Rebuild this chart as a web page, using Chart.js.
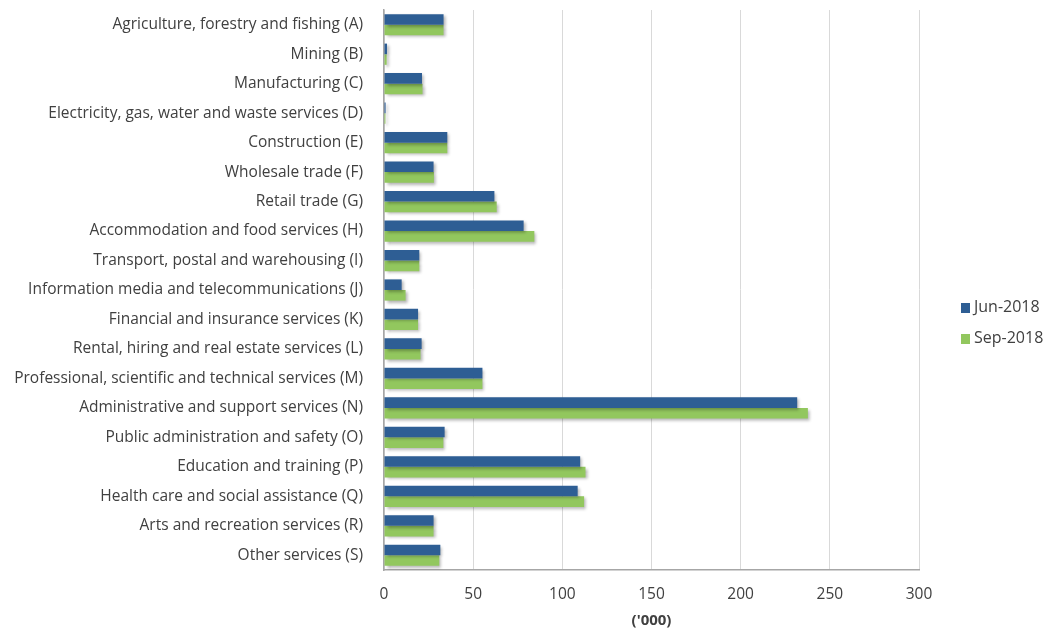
<!DOCTYPE html>
<html>
<head>
<meta charset="utf-8">
<script src="https://cdn.jsdelivr.net/npm/chart.js@4/dist/chart.umd.min.js"></script>
<style>
  html, body { margin: 0; padding: 0; background: #fff; }
  #wrap { position: relative; width: 1043px; height: 630px; }
  #legend { position: absolute; left: 961px; top: 296px; font: 16px "Open Sans", sans-serif; color: #404040; }
  #legend div { height: 31px; line-height: 20px; white-space: nowrap; }
  #legend span { display: inline-block; width: 9px; height: 10px; margin-right: 4px; vertical-align: -1px; }
</style>
</head>
<body>
<div id="wrap">
  <canvas id="industryChart" width="1043" height="630"></canvas>
  <div id="legend"></div>
</div>
<script>
// Industry categories, top to bottom
const industries = [
  'Agriculture, forestry and fishing (A)',
  'Mining (B)',
  'Manufacturing (C)',
  'Electricity, gas, water and waste services (D)',
  'Construction (E)',
  'Wholesale trade (F)',
  'Retail trade (G)',
  'Accommodation and food services (H)',
  'Transport, postal and warehousing (I)',
  'Information media and telecommunications (J)',
  'Financial and insurance services (K)',
  'Rental, hiring and real estate services (L)',
  'Professional, scientific and technical services (M)',
  'Administrative and support services (N)',
  'Public administration and safety (O)',
  'Education and training (P)',
  'Health care and social assistance (Q)',
  'Arts and recreation services (R)',
  'Other services (S)'
];

// values in '000
const jun2018 = [33.4, 1.7, 21.3, 0.9, 35.5, 27.8, 61.9, 78.3, 19.8, 9.9, 19.1, 21.1, 55.2, 231.7, 34.0, 110.0, 108.6, 27.8, 31.6];
const sep2018 = [33.4, 1.5, 21.6, 0.8, 35.5, 28.0, 63.2, 84.3, 19.8, 12.1, 19.1, 20.5, 55.2, 237.7, 33.3, 113.0, 112.2, 27.8, 31.0];

const xTicks = [0, 50, 100, 150, 200, 250, 300];

const textColor = '#404040';
const fontFamily = '"Open Sans", "Noto Sans", sans-serif';

// soft drop shadow under the bars, like the spreadsheet original
const barShadow = {
  id: 'barShadow',
  beforeDatasetsDraw(chart) {
    const ctx = chart.ctx;
    ctx.save();
    ctx.shadowColor = 'rgba(0,0,0,0.3)';
    ctx.shadowBlur = 3;
    ctx.shadowOffsetX = 2;
    ctx.shadowOffsetY = 2;
  },
  afterDatasetsDraw(chart) {
    chart.ctx.restore();
  }
};

const chart = new Chart(document.getElementById('industryChart'), {
  type: 'bar',
  data: {
    labels: industries,
    datasets: [
      { label: 'Jun-2018', data: jun2018, backgroundColor: '#2E5E94' },
      { label: 'Sep-2018', data: sep2018, backgroundColor: '#92C75E' }
    ]
  },
  options: {
    indexAxis: 'y',
    responsive: false,
    animation: false,
    devicePixelRatio: 1,
    categoryPercentage: 0.72,
    barPercentage: 1,
    layout: { padding: { top: 10, right: 124, bottom: 0, left: 0 } },
    font: { family: fontFamily },
    plugins: {
      tooltip: { enabled: false },
      legend: { display: false }
    },
    scales: {
      x: {
        min: 0,
        max: 300,
        afterBuildTicks: (scale) => { scale.ticks = xTicks.map(v => ({ value: v })); },
        grid: { color: '#d9d9d9', drawTicks: false },
        border: { color: '#a6a6a6', width: 1.5 },
        ticks: { color: textColor, font: { family: fontFamily, size: 15.5 }, padding: 15 },
        title: {
          display: true,
          text: "('000)",
          color: textColor,
          font: { family: fontFamily, size: 15, weight: 'bold' },
          padding: { top: 4, bottom: 0 }
        },
        afterFit: (scale) => { scale.height = 60; }
      },
      y: {
        grid: { display: false, drawTicks: false },
        border: { color: '#a6a6a6', width: 1.5 },
        ticks: { color: textColor, font: { family: fontFamily, size: 15.5 }, padding: 21, autoSkip: false },
        afterFit: (scale) => {
          scale.width = 384;
          scale.paddingTop = 0;
          scale.paddingBottom = 0;
        }
      }
    }
  },
  plugins: [barShadow]
});

// legend built from the datasets
const legendEl = document.getElementById('legend');
chart.data.datasets.forEach((ds) => {
  const row = document.createElement('div');
  const box = document.createElement('span');
  box.style.background = ds.backgroundColor;
  row.appendChild(box);
  row.appendChild(document.createTextNode(ds.label));
  legendEl.appendChild(row);
});
</script>
</body>
</html>
